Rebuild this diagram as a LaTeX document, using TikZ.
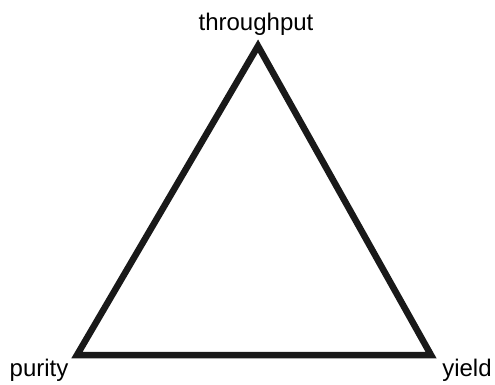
\documentclass[tikz,border=0pt]{standalone}
\usepackage{fontspec}
\setmainfont{Liberation Sans}
\usepackage{tikz}
\usetikzlibrary{positioning}

\begin{document}
\begin{tikzpicture}[x=1pt, y=-1pt,
    vertice/.style={font=\fontsize{24}{28}\selectfont, anchor=base, inner sep=0pt},
    lato/.style={line width=6.5pt, line join=miter, black!90}]
    % Area
    \useasboundingbox (0,0) rectangle (495,384);

    % Vertici
    \coordinate (top) at (258,46);
    \coordinate (left) at (77,355);
    \coordinate (right) at (431,355);

    % Triangolo
    \draw[lato] (top) -- (left) -- (right) -- cycle;

    % Etichette
    \node[vertice] (throughput) at (256,30) {throughput};
    \node[vertice] (purity) at (39,376) {purity};
    \node[vertice] (yield) at (467,376) {yield};
\end{tikzpicture}
\end{document}
